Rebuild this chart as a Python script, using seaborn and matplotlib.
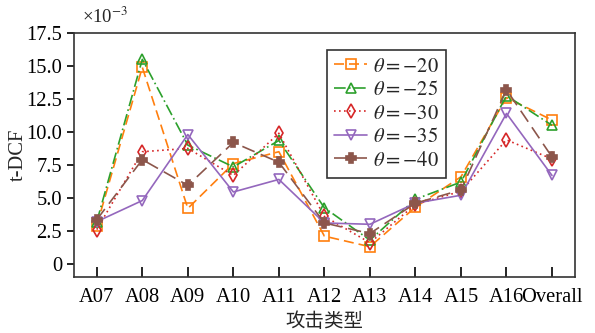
import matplotlib
matplotlib.use("Agg")
import matplotlib.pyplot as plt
import seaborn as sns
import pandas as pd

categories = ["A07", "A08", "A09", "A10", "A11", "A12", "A13", "A14", "A15", "A16", "Overall"]
theta_labels = ["$\\theta=-20$", "$\\theta=-25$", "$\\theta=-30$", "$\\theta=-35$", "$\\theta=-40$"]
t20 = [2.9, 14.9, 4.2, 7.6, 8.5, 2.1, 1.3, 4.3, 6.6, 12.6, 10.9]
t25 = [3.2, 15.5, 9.0, 7.35, 9.35, 4.25, 1.8, 4.9, 6.2, 12.75, 10.5]
t30 = [2.6, 8.5, 8.75, 6.7, 9.9, 3.6, 1.6, 4.5, 5.5, 9.4, 7.95]
t35 = [3.2, 4.8, 9.8, 5.45, 6.4, 3.1, 3.0, 4.6, 5.2, 11.4, 6.7]
t40 = [3.35, 7.9, 5.95, 9.2, 7.7, 3.1, 2.3, 4.6, 5.6, 13.2, 8.1]
series = [t20, t25, t30, t35, t40]

sns.set_style("ticks")
plt.rcParams["font.family"] = ["Liberation Serif", "Noto Sans CJK SC"]
plt.rcParams["mathtext.fontset"] = "stix"

colors = ["#ff7f0e", "#2ca02c", "#d62728", "#9467bd", "#8c564b"]
styles = [(0, (6, 3)), (0, (7, 2, 1, 2)), (0, (1, 2)), "-", (0, (8, 4))]
markers = ["s", "^", "d", "v", "P"]
filled = [False, False, False, False, True]
msizes = [7.5, 7.5, 7.5, 7.5, 7]

fig = plt.figure(figsize=(5.95, 3.33), dpi=100)
ax = fig.add_axes([0.1244, 0.168, 0.8416, 0.733])

for vals, lab, c, ls, m, f, ms in zip(series, theta_labels, colors, styles, markers, filled, msizes):
    df = pd.DataFrame({"x": range(len(categories)), "y": vals})
    sns.lineplot(data=df, x="x", y="y", ax=ax, color=c, linewidth=1.2,
                 marker=m, markersize=ms,
                 markerfacecolor=(c if f else "none"), markeredgecolor=c,
                 markeredgewidth=1.2, label=lab)
    ax.lines[-1].set_linestyle(ls)

ax.set_xlim(-0.5, 10.5)
ax.set_ylim(-1.0, 17.5)
ax.set_xticks(range(len(categories)))
ax.set_xticklabels(categories)
ax.set_yticks([0, 2.5, 5, 7.5, 10, 12.5, 15, 17.5])
ax.set_yticklabels(["0", "2.5", "5.0", "7.5", "10.0", "12.5", "15.0", "17.5"])
ax.tick_params(axis="both", labelsize=14.8, colors="black")
ax.tick_params(axis="x", direction="in", length=7, width=1.2, pad=8)
ax.tick_params(axis="y", direction="out", length=5, width=1.2)
for s in ax.spines.values():
    s.set_linewidth(1.2)
    s.set_color("#333333")

ax.set_xlabel("攻击类型", fontsize=14, labelpad=4)
ax.set_ylabel("t-DCF", fontsize=14.8, labelpad=-1)
ax.text(0.016, 1.025, "×10$^{-3}$", transform=ax.transAxes, fontsize=13.5, ha="left", va="bottom")

leg = ax.legend(loc="upper left", bbox_to_anchor=(0.505, 0.93), fontsize=14.8, frameon=True,
                fancybox=False, edgecolor="black", handlelength=1.6, handletextpad=0.3,
                borderpad=0.35, labelspacing=0.2, borderaxespad=0)
leg.get_frame().set_linewidth(1.2)

fig.savefig("out.png", dpi=100)
